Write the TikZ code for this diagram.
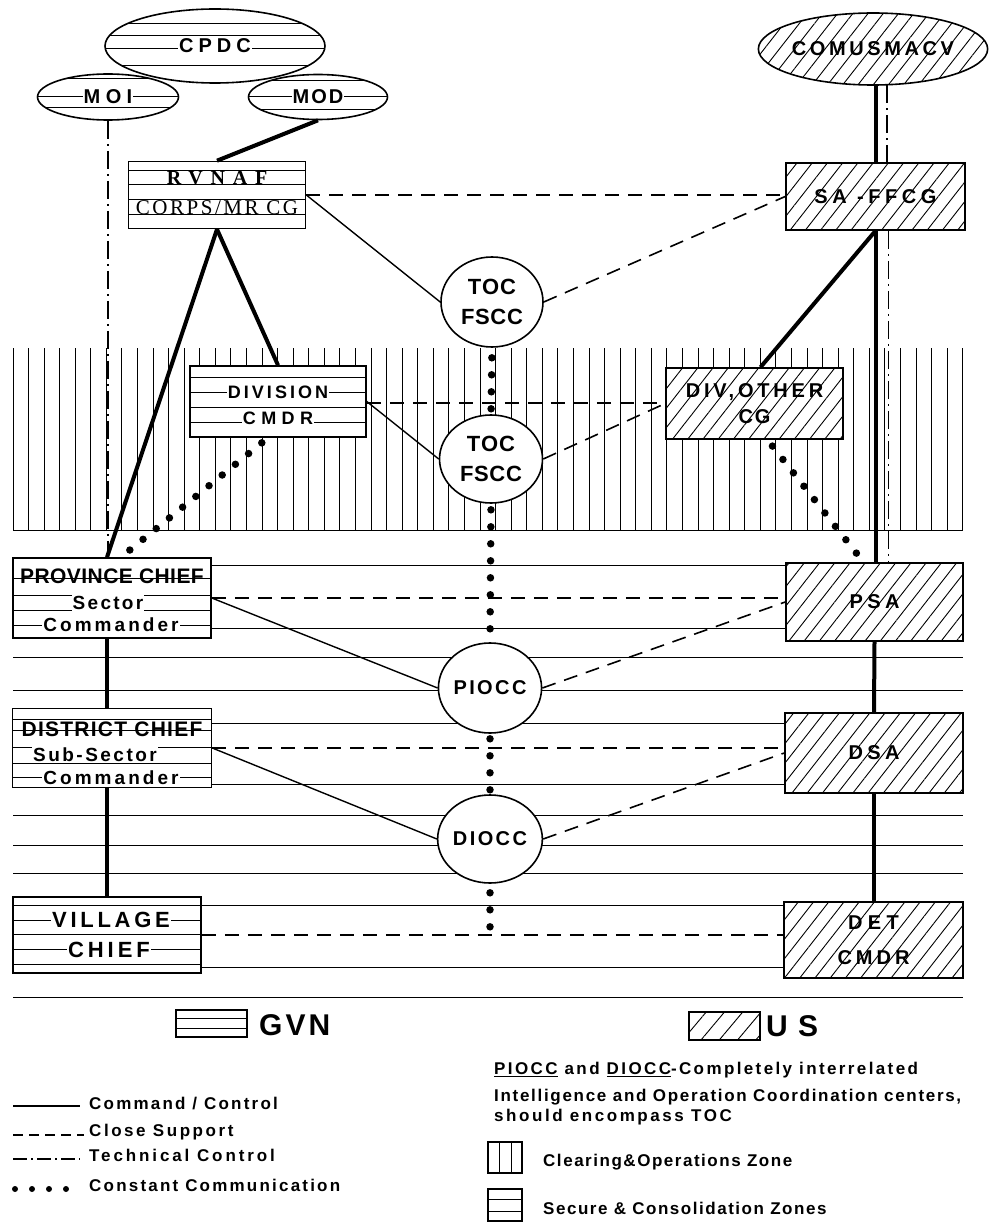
\documentclass[tikz,border=0pt]{standalone}
\usepackage{fontspec}
\setmainfont{Liberation Sans}
\newfontfamily\serf{Liberation Serif}
\usetikzlibrary{shapes.geometric,patterns.meta}
\newcommand\lf[2]{\fontsize{#1}{#1}\selectfont\addfontfeatures{LetterSpace=#2}}
\newcommand\wb[1]{{\fboxsep=1pt\colorbox{white}{#1}}}
\tikzset{
  box/.style={draw, line width=1.6pt, fill=white, inner sep=0pt, font=\bfseries},
  gvn/.style={box, path picture={\foreach \d in {#1}
      \draw[line width=1pt] ([yshift={-(\d)}]path picture bounding box.west) -- ([yshift={-(\d)}]path picture bounding box.east);}},
  us/.style={draw, line width=1.6pt, inner sep=0pt, font=\bfseries, preaction={fill=white},
      pattern={Lines[angle=52,distance=12pt,line width=0.9pt]}},
  circ/.style={box, ellipse, align=center},
  txt/.style={inner sep=1pt, font=\bfseries},
  txtw/.style={txt, fill=white},
  zone/.style={line width=1pt},
  cmd/.style={line width=1.4pt},
  heavy/.style={line width=4pt},
  support/.style={line width=1.6pt, dash pattern=on 14pt off 9pt},
  tech/.style={line width=1.4pt, dash pattern=on 18pt off 5pt on 2pt off 5pt},
  comm/.style={line width=7.5pt, line cap=round, dash pattern=on 0pt off 17pt},
}
\begin{document}
\begin{tikzpicture}[x=1pt, y=-1pt]
  \useasboundingbox (0,0) rectangle (994,1222);
  \fill[white] (0,0) rectangle (994,1222);

  % zones
  \foreach \i in {0,...,61}
    \draw[zone] (13+\i*15.57,348) -- (13+\i*15.57,530);
  \draw[zone] (13,530) -- (963,530);
  \foreach \y in {565,628,657,690,723,784,815,845,873,905,967,997}
    \draw[zone] (13,\y) -- (963,\y);

  % GVN side
  \node[gvn={-22,-10,3,20}, ellipse, minimum width=220, minimum height=74] (cpdc) at (215,46) {\lf{20}{25}\wb{CPDC}};
  \node[gvn={-18,0,11}, ellipse, minimum width=141, minimum height=46] (moi) at (108,97) {\lf{20}{27}\wb{MOI}};
  \node[gvn={-16,0,13}, ellipse, minimum width=139, minimum height=45] (mod) at (318,97) {\lf{20}{10}\wb{MOD}};

  \node[gvn={-24,-10,5,20}, minimum width=177, minimum height=67] (rvnaf) at (217,195) {};
  \node[txt, font=\serf\bfseries] (rvnaf-a) at (217,178) {\lf{20}{39}RVNAF};
  \node[txt, font=\serf] (rvnaf-b) at (217,207.5) {\lf{21}{12}CORPS/MR CG};

  \node[gvn={-24.5,-9.5,5.5,20.5}, minimum width=176, minimum height=71] (division) at (278,401.5) {};
  \node[txtw] (division-a) at (278,392) {\lf{18}{17}DIVISION};
  \node[txtw] (division-b) at (278,418) {\lf{18}{30}CMDR};

  \node[gvn={-20,-3,12,27}, minimum width=198, minimum height=80] (province) at (112,598) {};
  \node[txt] (province-a) at (112,576) {\lf{21}{2}PROVINCE CHIEF};
  \node[txtw] (province-b) at (108,603) {\lf{19}{12}Sector};
  \node[txtw] (province-c) at (111,625) {\lf{19}{16}Commander};

  \node[gvn={-29,-18,-1,15,29}, minimum width=199, minimum height=79] (district) at (112,748) {};
  \node[txt] (district-a) at (112,729) {\lf{21}{6}DISTRICT CHIEF};
  \node[txtw] (district-b) at (95,755) {\lf{19}{13}Sub-Sector};
  \node[txtw] (district-c) at (111,778) {\lf{19}{16}Commander};

  \node[gvn={-30,-15,-1,14,29}, minimum width=188, minimum height=76] (village) at (107,935) {};
  \node[txtw] (village-a) at (111,920) {\lf{22}{17}VILLAGE};
  \node[txtw] (village-b) at (109,950) {\lf{22}{18}CHIEF};

  % centres
  \node[circ, minimum width=102, minimum height=90] (toc1) at (492,302) {\lf{22}{5}TOC\\[14pt]\lf{22}{3}FSCC};
  \node[circ, minimum width=103, minimum height=88] (toc2) at (491,459) {\lf{22}{5}TOC\\[14pt]\lf{22}{3}FSCC};
  \node[circ, minimum width=103, minimum height=90] (piocc) at (490,688) {\lf{20}{12}PIOCC};
  \node[circ, minimum width=102, minimum height=88] (diocc) at (490,839) {\lf{20}{12}DIOCC};

  % US side
  \node[us, ellipse, minimum width=220, minimum height=72] (comusmacv) at (873,49) {\lf{20}{18}COMUSMACV};
  \node[us, minimum width=179, minimum height=67] (saffcg) at (875.5,196.5) {\lf{20}{23}SA -FFCG};
  \node[us, minimum width=177, minimum height=71, align=center] (divother) at (754.5,403.5) {\lf{20}{19}DIV,OTHER\\[8pt]\lf{20}{10}CG};
  \node[us, minimum width=177, minimum height=78] (psa) at (874.5,602) {\lf{20}{22}PSA};
  \node[us, minimum width=178, minimum height=80] (dsa) at (874,753) {\lf{20}{22}DSA};
  \node[us, minimum width=179, minimum height=76, align=center] (det) at (873.5,940) {\lf{20}{27}DET\\[20pt]\lf{20}{20}CMDR};

  % command lines
  \draw[heavy] (mod.south) -- (rvnaf.north);
  \draw[heavy] (rvnaf.south) -- (village.north |- province.north);
  \draw[heavy] (rvnaf.south) -- (division.north);
  \draw[heavy] (village.north |- province.south) -- (village.north |- district.north);
  \draw[heavy] (village.north |- district.south) -- (village.north);
  \draw[heavy] (comusmacv.south -| saffcg.north) -- (saffcg.north);
  \draw[heavy] (saffcg.south) -- (saffcg.south |- psa.north);
  \draw[heavy] (saffcg.south) -- ([xshift=6pt]divother.north);
  \draw[heavy] (psa.south) -- (dsa.north);
  \draw[heavy] (dsa.south) -- (dsa.south |- det.north);
  \draw[cmd] (rvnaf.east) -- (toc1.west);
  \draw[cmd] (division.east) -- (toc2.west);
  \draw[cmd] (province.east) -- (piocc.west);
  \draw[cmd] (district.east) -- (diocc.west);

  % technical control
  \draw[tech] (moi.south) -- (moi.south |- province.north);
  \draw[tech] ([xshift=14pt]comusmacv.south) -- ([xshift=14pt]comusmacv.south |- saffcg.north);
  \draw[tech] ([xshift=13pt]saffcg.south) -- ([xshift=13pt]saffcg.south |- psa.north);

  % close support
  \draw[support] (rvnaf.east) -- (rvnaf.east -| saffcg.west);
  \draw[support] (toc1.east) -- (saffcg.west);
  \draw[support] ([yshift=-1.5pt]division.east) -- ([yshift=-1.5pt]division.east -| divother.west);
  \draw[support] (toc2.east) -- (divother.west);
  \draw[support] (province.east) -- (province.east -| psa.west);
  \draw[support] (piocc.east) -- (psa.west);
  \draw[support] (district.east) -- (district.east -| dsa.west);
  \draw[support] (diocc.east) -- (dsa.west);
  \draw[support] (village.east) -- (village.east -| det.west);

  % constant communication
  \coordinate (commend) at (490,928);
  \draw[comm, shorten <=10pt, shorten >=4pt] (toc1.south) -- (toc2.north);
  \draw[comm, shorten <=6pt, shorten >=4pt] (toc2.south) -- (piocc.north);
  \draw[comm, shorten <=5pt, shorten >=1pt] (piocc.south) -- (diocc.north);
  \draw[comm, shorten <=9pt] (diocc.south) -- (commend);
  \draw[comm, shorten <=8pt, shorten >=6pt] ([xshift=-10pt]division.south) -- ([xshift=9pt]province.north);
  \draw[comm, shorten <=8pt, shorten >=6pt] ([xshift=13pt]divother.south) -- ([xshift=-11pt]psa.north);

  % key
  \node[gvn={-5,5}, minimum width=71, minimum height=27] (gvnkey) at (211.5,1023.5) {};
  \node[txt, anchor=west] (gvnlbl) at (258,1025) {\lf{30}{10}GVN};
  \node[us, minimum width=71, minimum height=28, pattern={Lines[angle=50,distance=14pt,line width=0.9pt]}] (uskey) at (724.5,1026) {};
  \node[txt, anchor=west] (uslbl) at (765,1026) {\lf{30}{34}US};

  \node[txt, anchor=west] (lgcmd) at (88,1103) {\lf{17}{13}Command / Control};
  \draw[cmd] (13,1106) -- (80,1106);
  \node[txt, anchor=west] (lgsup) at (88,1132) {\lf{17}{15}Close Support};
  \draw[support, dash pattern=on 10pt off 6pt] (13,1135) -- (84,1135);
  \node[txt, anchor=west] (lgtech) at (88,1155) {\lf{17}{17}Technical Control};
  \draw[tech, dash pattern=on 14pt off 4pt on 2pt off 4pt] (13,1159) -- (80,1159);
  \node[txt, anchor=west] (lgcomm) at (88,1185) {\lf{17}{13}Constant Communication};
  \draw[comm, line width=6pt] (15,1189) -- (70,1189);

  \node[txt, anchor=west] (note-a) at (493,1070) {\lf{17}{14}\underline{PIOCC} and \underline{DIOCC}-Completely interrelated};
  \node[txt, anchor=west] (note-b) at (493,1097) {\lf{17}{10}Intelligence and Operation Coordination centers,};
  \node[txt, anchor=west] (note-c) at (493,1117) {\lf{17}{15}should encompass TOC};

  \node[box, minimum width=34, minimum height=31] (clrkey) at (505,1157.5) {};
  \draw[zone] (499,1142) -- (499,1173);
  \draw[zone] (511,1142) -- (511,1173);
  \node[txt, anchor=west] (clrlbl) at (542,1162) {\lf{17}{9}Clearing\&Operations Zone};
  \node[gvn={-5.5,6.5}, minimum width=34, minimum height=32] (seckey) at (505,1205) {};
  \node[txt, anchor=west] (seclbl) at (542,1208) {\lf{17}{9}Secure \& Consolidation Zones};
\end{tikzpicture}
\end{document}
